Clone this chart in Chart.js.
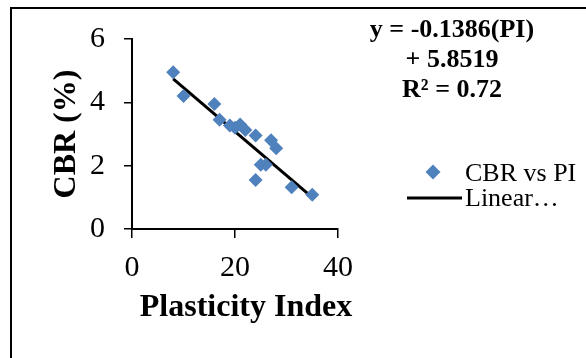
<!DOCTYPE html>
<html>
<head>
<meta charset="utf-8">
<style>
  html, body { margin: 0; padding: 0; background: #fff; }
  .chart-box { width: 586px; height: 358px; position: relative; }
</style>
<script src="https://cdn.jsdelivr.net/npm/chart.js@4/dist/chart.umd.min.js"></script>
</head>
<body>
<div class="chart-box">
  <canvas id="js-cbr-chart" width="586" height="358"></canvas>
</div>
<script>
// values
const plasticityIndex = [8, 10, 16, 17, 19, 20, 21, 22, 24, 27, 28, 25, 26, 24, 31, 35];
const cbrValues = [4.95, 4.2, 3.95, 3.45, 3.27, 3.2, 3.3, 3.13, 2.95, 2.8, 2.55, 2.03, 2.03, 1.55, 1.32, 1.08];

// trend line end points (y = -0.1386(PI) + 5.8519)
const trendX = [8, 35];
const trendY = [4.743, 1.001];

const xTicks = [0, 20, 40];
const yTicks = [0, 2, 4, 6];

const equationLines = ['y = -0.1386(PI)', '+ 5.8519', 'R\u00B2 = 0.72'];
const seriesLabels = ['CBR vs PI', 'Linear\u2026'];
const axisTitles = { x: 'Plasticity Index', y: 'CBR (%)' };

(() => {
  const canvas = document.getElementById('js-cbr-chart');
  const serif = "'Liberation Serif', 'Times New Roman', serif";
  const blue = '#4F81BD';

  const points = plasticityIndex.map((x, i) => ({ x: x, y: cbrValues[i] }));
  const trend = trendX.map((x, i) => ({ x: x, y: trendY[i] }));

  const overlay = {
    id: 'overlay',
    beforeDraw(chart) {
      const ctx = chart.ctx;
      ctx.save();
      ctx.fillStyle = '#fff';
      ctx.fillRect(0, 0, chart.width, chart.height);
      ctx.strokeStyle = '#000';
      ctx.lineWidth = 2;
      ctx.strokeRect(11, 8, chart.width + 20, chart.height + 20);
      ctx.restore();
    },
    afterDraw(chart) {
      const ctx = chart.ctx;
      ctx.save();
      ctx.fillStyle = '#000';

      // axis titles
      ctx.font = 'bold 32px ' + serif;
      ctx.textAlign = 'center';
      ctx.textBaseline = 'alphabetic';
      ctx.fillText(axisTitles.x, 246, 316);
      ctx.save();
      ctx.translate(75, 134);
      ctx.rotate(-Math.PI / 2);
      ctx.fillText(axisTitles.y, 0, 0);
      ctx.restore();

      // equation
      ctx.font = 'bold 26px ' + serif;
      equationLines.forEach((line, i) => {
        ctx.fillText(line, 452, 37 + i * 30);
      });

      // legend
      ctx.textAlign = 'left';
      ctx.font = '26px ' + serif;
      ctx.fillStyle = blue;
      ctx.beginPath();
      ctx.moveTo(433, 164.5);
      ctx.lineTo(440.5, 172);
      ctx.lineTo(433, 179.5);
      ctx.lineTo(425.5, 172);
      ctx.closePath();
      ctx.fill();
      ctx.fillStyle = '#000';
      ctx.fillText(seriesLabels[0], 465, 181);

      ctx.strokeStyle = '#000';
      ctx.lineWidth = 3;
      ctx.beginPath();
      ctx.moveTo(407, 198);
      ctx.lineTo(462, 198);
      ctx.stroke();
      ctx.fillText(seriesLabels[1], 465, 206);
      ctx.restore();
    },
  };

  new Chart(canvas, {
    type: 'scatter',
    data: {
      datasets: [
        {
          label: seriesLabels[0],
          data: points,
          pointStyle: 'rectRot',
          pointRadius: 7,
          pointHoverRadius: 7,
          pointBackgroundColor: blue,
          pointBorderWidth: 0,
          borderColor: blue,
        },
        {
          type: 'line',
          label: seriesLabels[1],
          data: trend,
          borderColor: '#000',
          borderWidth: 3,
          pointRadius: 0,
          fill: false,
        },
      ],
    },
    options: {
      responsive: false,
      animation: false,
      layout: {
        padding: { left: 0, top: 39, right: 248, bottom: 0 },
      },
      plugins: {
        legend: { display: false },
        tooltip: { enabled: false },
      },
      scales: {
        x: {
          type: 'linear',
          min: 0,
          max: 40,
          afterBuildTicks(scale) {
            scale.ticks = xTicks.map((v) => ({ value: v }));
          },
          afterFit(scale) {
            scale.height = 129;
          },
          border: { color: '#000', width: 2 },
          grid: {
            drawOnChartArea: false,
            color: '#000',
            lineWidth: 1.5,
            tickLength: 9,
          },
          ticks: {
            color: '#000',
            padding: 12,
            maxRotation: 0,
            font: { family: serif, size: 30 },
          },
        },
        y: {
          type: 'linear',
          min: 0,
          max: 6,
          afterBuildTicks(scale) {
            scale.ticks = yTicks.map((v) => ({ value: v }));
          },
          afterFit(scale) {
            scale.width = 132;
          },
          border: { color: '#000', width: 2 },
          grid: {
            drawOnChartArea: false,
            color: '#000',
            lineWidth: 1.5,
            tickLength: 8,
          },
          ticks: {
            color: '#000',
            padding: 19,
            font: { family: serif, size: 30 },
          },
        },
      },
    },
    plugins: [overlay],
  });
})();
</script>
</body>
</html>
